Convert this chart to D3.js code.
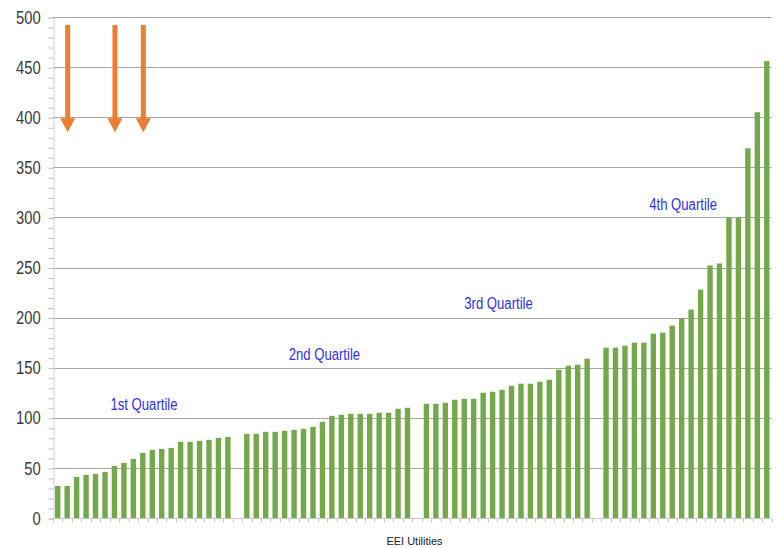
<!DOCTYPE html>
<html>
<head>
<meta charset="utf-8">
<script src="https://cdn.jsdelivr.net/npm/d3@7"></script>
<style>
  html, body { margin: 0; padding: 0; background: #ffffff; }
  svg { display: block; }
</style>
</head>
<body>
<svg id="chart" width="778" height="548"></svg>
<script>
// ---- data ----
const q1Values = [32, 32, 41, 43, 44, 46, 52, 55, 59, 65, 68, 69, 70, 76, 76, 77, 78, 80, 81];
const q2Values = [84, 84, 86, 86, 87, 88, 89, 91, 96, 102, 103, 104, 104, 104, 105, 105, 109, 110];
const q3Values = [114, 114, 115, 118, 119, 119, 125, 126, 128, 132, 134, 134, 136, 138, 148, 152, 153, 159];
const q4Values = [170, 170, 172, 175, 175, 184, 185, 192, 199, 208, 228, 252, 254, 300, 300, 369, 405, 456];
const quartileNames = ["1st Quartile", "2nd Quartile", "3rd Quartile", "4th Quartile"];
const yTicks = [0, 50, 100, 150, 200, 250, 300, 350, 400, 450, 500];
const xTitle = "EEI Utilities";
const arrowBars = [1, 6, 9];   // utilities (slot index) flagged by arrows

(function () {
const NARROW = 0.82;
const FONT = "'Liberation Sans', Arial, sans-serif";
// ---- build slots (bars with one empty slot between quartiles) ----
const quartiles = [q1Values, q2Values, q3Values, q4Values];
const slots = [];
let n = 0;
quartiles.forEach((vals, qi) => {
  vals.forEach(v => { slots.push({ id: "u" + (n++), value: v, q: qi }); });
  if (qi < quartiles.length - 1) slots.push({ id: "gap" + qi, value: null, q: qi });
});

const svg = d3.select("#chart");
const pLeft = 53, pRight = 771.5, pTop = 17, pBottom = 518;

const x = d3.scaleBand().domain(slots.map(d => d.id)).range([pLeft, pRight]).paddingInner(0.43).paddingOuter(0.215);
const xb = d3.scaleBand().domain(slots.map(d => d.id)).range([pLeft, pRight]).padding(0);
const y = d3.scaleLinear().domain([0, 500]).range([pBottom, pTop]);

// gridlines
svg.append("g").selectAll("line").data(yTicks.filter(t => t > 0)).join("line")
  .attr("x1", pLeft).attr("x2", pRight)
  .attr("y1", d => Math.round(y(d)) + 0.5).attr("y2", d => Math.round(y(d)) + 0.5)
  .attr("stroke", "#a6a6a6").attr("stroke-width", 1);

// y axis (minor ticks every 10)
const yAxisMinor = d3.axisLeft(y).tickValues(d3.range(0, 501, 10)).tickSize(5).tickFormat("");
const gMinor = svg.append("g").attr("transform", `translate(${pLeft + 0.5},0.5)`).call(yAxisMinor);
gMinor.select(".domain").attr("stroke", "#d0d0d0");
gMinor.selectAll(".tick line").attr("stroke", "#bdbdbd");

const yAxis = d3.axisLeft(y).tickValues(yTicks).tickSize(0).tickPadding(12);
const gy = svg.append("g").attr("transform", `translate(${pLeft},0)`).call(yAxis);
gy.select(".domain").remove();
gy.selectAll(".tick text")
  .attr("fill", "#3a3a3a")
  .attr("font-family", FONT)
  .attr("font-size", 18)
  .attr("x", -12.3 / NARROW)
  .attr("transform", `scale(${NARROW},1)`)
  .attr("dy", "0.34em");

// x axis with ticks at category boundaries
const gx = svg.append("g").attr("transform", `translate(0,${pBottom + 0.5})`);
gx.append("line").attr("x1", pLeft).attr("x2", pRight).attr("stroke", "#c8c8c8");
gx.selectAll("line.tk").data(slots.map(d => xb(d.id)).concat([pRight])).join("line")
  .attr("class", "tk")
  .attr("x1", d => Math.round(d) + 0.5).attr("x2", d => Math.round(d) + 0.5)
  .attr("y1", 0).attr("y2", 4).attr("stroke", "#c8c8c8");

// bars
svg.append("g").selectAll("rect").data(slots.filter(d => d.value !== null)).join("rect")
  .attr("x", d => x(d.id)).attr("width", x.bandwidth())
  .attr("y", d => y(d.value)).attr("height", d => y(0) - y(d.value))
  .attr("fill", "#74a84a");

// quartile labels
const labelAnchors = [
  { slot: 9, dx: 1.2, v: 108 },
  { slot: 29, dx: -7.5, v: 158 },
  { slot: 48, dx: -13, v: 209 },
  { slot: 67, dx: -8, v: 307 }
];
const barIds = slots.map(d => d.id);
svg.append("g").selectAll("text").data(quartileNames).join("text")
  .attr("transform", (d, i) => `translate(${xb(barIds[labelAnchors[i].slot]) + xb.bandwidth() / 2 + labelAnchors[i].dx},${y(labelAnchors[i].v)}) scale(${NARROW},1)`)
  .attr("text-anchor", "middle")
  .attr("fill", "#2f2ff5")
  .attr("font-family", FONT)
  .attr("font-size", 16)
  .text(d => d);

// x title
svg.append("text").attr("x", 414.5).attr("y", 545).attr("text-anchor", "middle")
  .attr("fill", "#222").attr("font-family", FONT).attr("font-size", 11)
  .text(xTitle);

// arrows
const arrowTop = 492, arrowHeadStart = 399, arrowTip = 385;
const ga = svg.append("g");
arrowBars.forEach(i => {
  const cx = xb(barIds[i]) + xb.bandwidth() / 2 + 0.5;
  const yT = y(arrowTop), yH = y(arrowHeadStart), yP = y(arrowTip);
  ga.append("rect").attr("x", cx - 2.5).attr("y", yT).attr("width", 5).attr("height", yH - yT + 1).attr("fill", "#ed7d31");
  ga.append("path").attr("d", `M${cx - 7.5},${yH} L${cx + 7.5},${yH} L${cx},${yP} Z`).attr("fill", "#ed7d31");
});
})();
</script>
</body>
</html>
